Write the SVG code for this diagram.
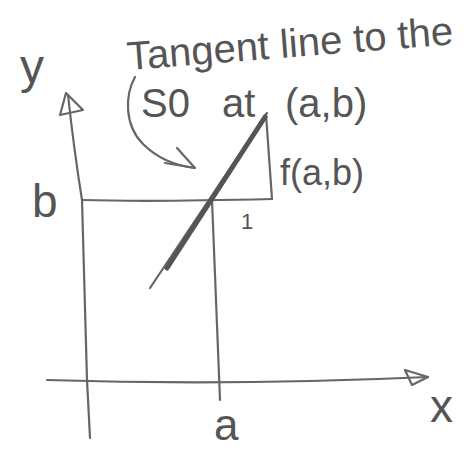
<svg xmlns="http://www.w3.org/2000/svg" width="471" height="450" viewBox="0 0 471 450">
<style>
.ln{fill:none;stroke:#666;stroke-width:2.2;stroke-linecap:round;stroke-linejoin:round}
.tx{font-family:"Liberation Sans","DejaVu Sans",sans-serif;fill:#555}
</style>
<rect width="471" height="450" fill="#fff"/>
<g id="connectors">
<path id="y-axis" class="ln" d="M68,95 Q74,150 82,200 L87,380 L90,438"/>
<path id="y-arrowhead" class="ln" d="M66,93 L60,115 L83,110 Z"/>
<path id="x-axis" class="ln" d="M47,380 Q230,386 428,377"/>
<path id="x-arrowhead" class="ln" d="M428,377 L405,370 L412,385 Z"/>
<path id="b-line" class="ln" d="M82,200 Q150,202 272,199"/>
<path id="a-line" class="ln" d="M212,200 Q216,300 220,400"/>
<path id="triangle-side" class="ln" d="M266,114 L272,199"/>
<path id="tangent" class="ln" d="M267,113 L150,288"/>
<path id="tangent-thick" fill="none" stroke="#555" stroke-width="5" stroke-linecap="round" d="M265,117 L167,268"/>
<path id="callout" class="ln" d="M135,77 C125,95 124,125 143,144 C158,159 178,166 195,168"/>
<path id="callout-head" class="ln" d="M177,148 L195,168 L165,163"/>
</g>
<g id="label-y"><text class="tx" x="20" y="83" font-size="48">y</text></g>
<g id="label-b"><text class="tx" x="32" y="217" font-size="46">b</text></g>
<g id="label-a"><text class="tx" x="214" y="440" font-size="44">a</text></g>
<g id="label-x"><text class="tx" x="430" y="422" font-size="46">x</text></g>
<g id="label-1"><text class="tx" x="241" y="229" font-size="22">1</text></g>
<g id="label-f"><text class="tx" x="280" y="185" font-size="36">f(a,b)</text></g>
<g id="note">
<text class="tx" x="128" y="70" font-size="40" transform="rotate(-4.5 128 70)">Tangent line to the</text>
<text class="tx" y="117" font-size="40"><tspan x="141">S0</tspan><tspan x="222">at</tspan><tspan x="285">(a,b)</tspan></text>
</g>
</svg>
